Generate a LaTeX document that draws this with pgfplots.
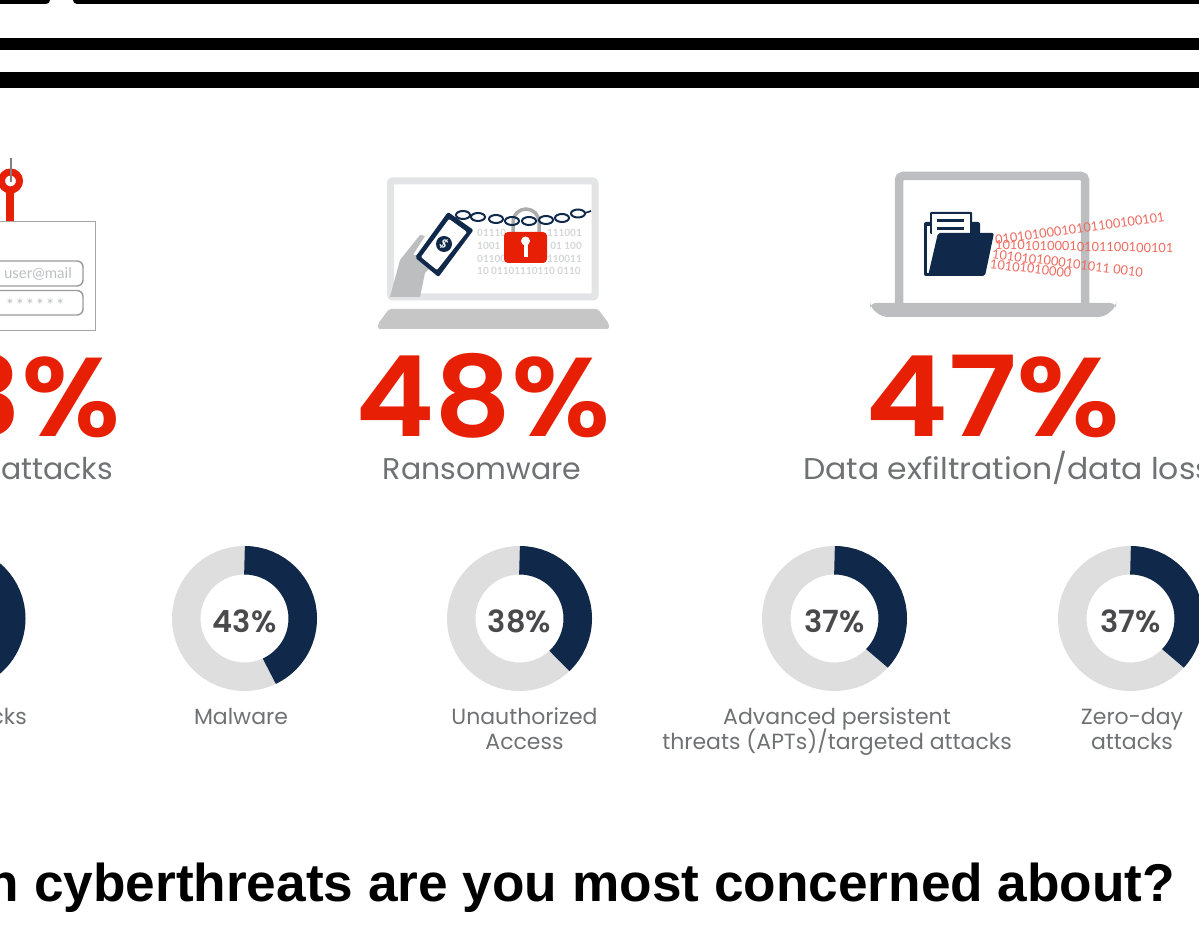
\documentclass[border=0pt]{standalone}
\usepackage{pgfplots}
\pgfplotsset{compat=1.18}
\usepackage{fontspec}
\setmainfont{Poppins}
\newfontfamily\semi{Poppins}[UprightFont=* SemiBold]
\newfontfamily\lato{Lato}[Ligatures=NoCommon]
\newfontfamily\arialb{Liberation Sans}
\definecolor{navy}{HTML}{10294B}
\definecolor{ringgray}{HTML}{DEDEDF}
\definecolor{redm}{HTML}{E71F05}
\definecolor{txtgray}{HTML}{707173}
\definecolor{pctgray}{HTML}{4A4A4C}
\definecolor{lapgray}{HTML}{BCBEC0}
\definecolor{lightlap}{HTML}{E3E4E5}
\definecolor{bingray}{HTML}{D4D5D6}
\definecolor{binred}{HTML}{EE6A5E}
\pgfplotstableread{
cx     cy     pct
-47    618.5  44
244.5  618.5  43
519.5  618.5  38
834.5  618.5  37
1130.5 618.5  37
}\donuts
\begin{document}
\begin{tikzpicture}[x=1pt,y=1pt]
\path[use as bounding box,clip] (0,0) rectangle (1199,934);
\begin{axis}[
  at={(-150pt,0pt)},anchor=south west,
  width=1400pt,height=934pt,scale only axis,
  xmin=-150,xmax=1250,ymin=0,ymax=934,y dir=reverse,
  hide axis,clip=false]
% One ring per row: grey track, navy arc swept clockwise from twelve o'clock.
% Canvas coordinates keep the drawing relative to the marker position.
\addplot[scatter,only marks,mark=*,mark size=0pt,draw=none,
  point meta=explicit symbolic,
  scatter/@pre marker code/.code={%
    \begin{scope}
    \draw[ringgray,line width=28.5pt] (canvas cs:x=0pt,y=0pt) circle[radius=58.25pt];
    \draw[navy,line width=28.5pt] (canvas cs:x=0pt,y=58.25pt) arc[start angle=90,delta angle=-3.6*\pgfplotspointmeta,radius=58.25pt];
    \node[text=pctgray,font=\fontsize{30.5}{31}\selectfont\semi,inner sep=0pt,anchor=base] at (canvas cs:x=0pt,y=-13.5pt) {\pgfplotspointmeta\%};
  },
  scatter/@post marker code/.code={\end{scope}}]
  table[x=cx,y=cy,meta=pct]{\donuts};
\end{axis}
\begin{scope}[shift={(0,934)},yscale=-1]
% top rules
\fill[black,rounded corners=4pt] (-20,-10) rectangle (50,4);
\fill[black,rounded corners=4pt] (73,-10) rectangle (1220,4);
\fill[black] (0,38) rectangle (1199,50);
\fill[black] (0,72) rectangle (1199,88);

% phishing icon
\draw[gray!70,line width=1.2pt] (-10,221.5) rectangle (95.7,330.5);
\draw[redm,line width=7pt] (10.5,181) circle[radius=9];
\draw[redm,line width=8pt] (10,190) -- (10,221);
\draw[gray,line width=1.5pt] (11,158) -- (11,182);
\draw[gray!80,line width=1.4pt,rounded corners=6pt] (-15,261) rectangle (83,286);
\draw[gray!80,line width=1.4pt,rounded corners=6pt] (-15,290.5) rectangle (83,315);
\node[anchor=east,text=lapgray,font=\fontsize{15}{16}\selectfont\lato,inner sep=0pt] at (72,274) {user@mail};
\node[anchor=east,text=lapgray,font=\fontsize{17}{16}\selectfont\lato,inner sep=0pt] at (64,305) {*\,*\,*\,*\,*\,*};

% ransomware icon
\draw[lightlap,line width=7pt,rounded corners=2pt] (390.5,181) rectangle (595,297);
\fill[gray!45,rounded corners=2pt] (378,329) -- (378,324) -- (389,309) -- (598,309) -- (609,324) -- (609,329) -- cycle;
\foreach \yy/\ll/\rr in {233/01110/111001,246/1001/01 100,258.5/01100/110011}{
  \node[anchor=west,text=bingray,font=\fontsize{10}{10}\selectfont\lato\bfseries,inner sep=0pt] at (477,\yy) {\ll};
  \node[anchor=east,text=bingray,font=\fontsize{10}{10}\selectfont\lato\bfseries,inner sep=0pt] at (582,\yy) {\rr};
}
\node[anchor=west,text=bingray,font=\fontsize{10}{10}\selectfont\lato\bfseries,inner sep=0pt] at (477,271) {10 01101110110 0110};
\fill[lapgray] (390,297) -- (400,260) -- (420,235) -- (425,236) -- (413,255) -- (435,253) -- (435,263) -- (425,273) -- (420,297) -- cycle;
\fill[navy,rounded corners=2pt] (448,212) -- (473.5,230) -- (438.5,277) -- (415,257.5) -- cycle;
\fill[white,rounded corners=1pt] (449,219) -- (467,232) -- (437,270) -- (421,257) -- cycle;
\fill[navy] (444,244) circle[radius=8];
\node[text=white,font=\fontsize{12}{12}\selectfont\lato\bfseries,inner sep=0pt,rotate=-35] at (444,244) {\$};
\draw[gray!65,line width=3.5pt] (513,232) -- (513,222) arc[start angle=180,end angle=360,radius=13] -- (539,232);
\foreach \cxx/\cyy in {463/215,478/217,496/219,512/221,529/221,546/220,562/218,578/213.5}{
  \draw[navy,line width=2pt,fill=none] (\cxx,\cyy) ellipse[x radius=7,y radius=4];
}
\draw[navy,line width=1.6pt] (585,213) -- (591,211);
\fill[redm,rounded corners=4pt] (504,232) rectangle (547,263);
\fill[white] (525.5,241) circle[radius=4.5];
\fill[white] (523.5,243) rectangle (527.5,257);

% exfiltration icon
\draw[lapgray,line width=8.5pt,rounded corners=4pt] (899,304) -- (899,176) -- (1085,176) -- (1085,304);
\fill[lapgray,rounded corners=6pt] (870,303) -- (1116,303) -- (1116,307) -- (1104,317) -- (882,317) -- (870,307) -- cycle;
\fill[navy,rounded corners=2pt] (924,222) rectangle (980,276);
\fill[white] (927,226) rectangle (940,273);
\fill[navy,rounded corners=1pt] (930,212) rectangle (972,234);
\fill[white] (932,214) rectangle (970,236);
\fill[navy] (937,219) rectangle (964,222);
\fill[navy] (937,227) rectangle (964,230);
\fill[white] (932,236) rectangle (940,272);
\fill[navy,rounded corners=2pt] (938,233) -- (994,233) -- (985,276) -- (928,276) -- cycle;
\tikzset{bin/.style={anchor=west,text=binred,font=\fontsize{12.8}{13}\selectfont\lato,inner sep=0pt}}
\node[bin,rotate=7.7] at (995,240) {01010100010101100100101};
\node[bin,rotate=-1] at (995,245) {101010100010101100100101};
\node[bin,rotate=-7] at (992,254) {1010101000101011 0010};
\node[bin,rotate=-6.5] at (990,264) {10101010000};

% large percentages
\tikzset{pct/.style={text=redm,inner sep=0pt,font=\fontsize{112}{120}\selectfont\semi}}
\node[pct,anchor=base east,xscale=1.07] at (121,437) {3\%};
\node[pct,anchor=base,xscale=1.07] at (483,437) {48\%};
\node[pct,anchor=base,xscale=1.12] at (993,437) {47\%};

% threat names
\tikzset{big/.style={text=txtgray,inner sep=0pt,font=\fontsize{30}{31}\selectfont},
         small/.style={text=txtgray,inner sep=0pt,font=\fontsize{22}{23}\selectfont}}
\node[big,anchor=base east] at (113,480) {attacks};
\node[big,anchor=base] at (482,480) {Ransomware};
\node[big,anchor=base west,xscale=1.05] at (803,480) {Data exfiltration/data loss};
\node[small,anchor=base east] at (27,725) {attacks};
\node[small,anchor=base] at (241,725) {Malware};
\node[small,anchor=base] at (524.5,725) {Unauthorized};
\node[small,anchor=base] at (524.5,750) {Access};
\node[small,anchor=base] at (837,725) {Advanced persistent};
\node[small,anchor=base] at (837,750) {threats (APTs)/targeted attacks};
\node[small,anchor=base] at (1132,725) {Zero-day};
\node[small,anchor=base] at (1132,750) {attacks};

% question line
\node[anchor=base east,inner sep=0pt,font=\fontsize{53.2}{54}\selectfont\arialb\bfseries] at (1175.5,902) {n cyberthreats are you most concerned about?};
\end{scope}
\end{tikzpicture}
\end{document}
